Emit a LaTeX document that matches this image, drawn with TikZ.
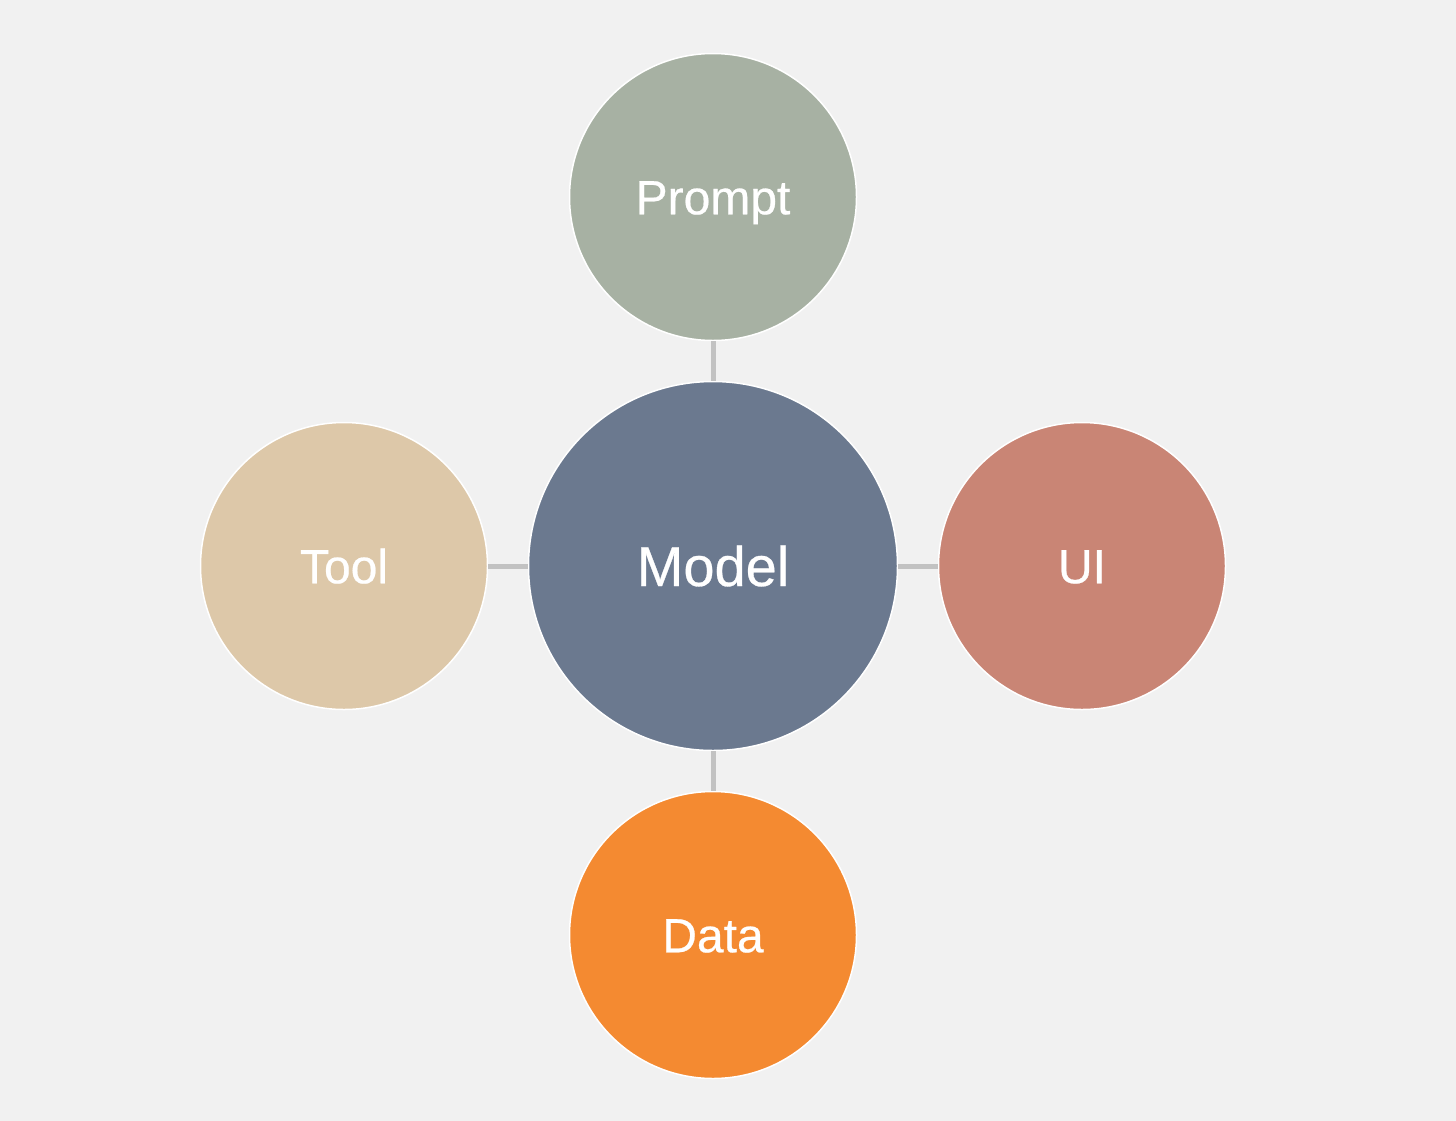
\documentclass[tikz,border=0pt]{standalone}
\usepackage{fontspec}
\setmainfont{Liberation Sans}
\newfontfamily\lblfont{Liberation Sans}[FakeBold=0.5]
\definecolor{bgc}{HTML}{F1F1F1}
\definecolor{linec}{HTML}{C2C2C2}
\definecolor{promptc}{HTML}{A7B1A3}
\definecolor{modelc}{HTML}{6B798F}
\definecolor{toolc}{HTML}{DDC8A9}
\definecolor{uic}{HTML}{C98575}
\definecolor{datac}{HTML}{F48A31}
\tikzset{
  bubble/.style={circle, draw=white, line width=1.5pt, minimum size=287pt, inner sep=0pt,
    text=white, font=\lblfont\fontsize{48}{48}\selectfont, text height=34.5pt, text depth=0pt},
  bigbubble/.style={bubble, minimum size=369pt, font=\lblfont\fontsize{56}{56}\selectfont, text height=40pt},
  link/.style={draw=linec, line width=5pt}
}
\begin{document}
\begin{tikzpicture}[x=1pt,y=-1pt]
\useasboundingbox (0,0) rectangle (1456,1120);
\fill[bgc] (-6,-6) rectangle (1462,1126);
\node[bigbubble, fill=modelc] (model) at (713,566) {Model};
\node[bubble, fill=promptc] (prompt) at (713,197) {Prompt};
\node[bubble, fill=toolc] (tool) at (344,566) {Tool};
\node[bubble, fill=uic] (ui) at (1082,566) {UI};
\node[bubble, fill=datac] (data) at (713,935) {Data};
\draw[link] (prompt) -- (model);
\draw[link] (tool) -- (model);
\draw[link] (model) -- (ui);
\draw[link] (model) -- (data);
\end{tikzpicture}
\end{document}
